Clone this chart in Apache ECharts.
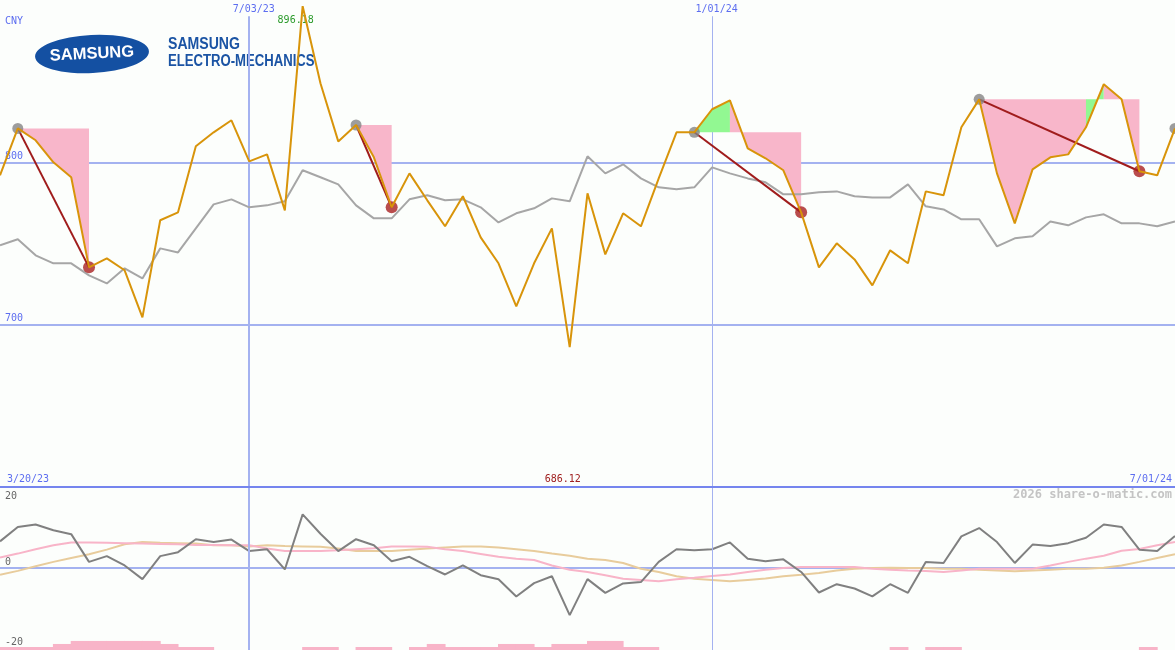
<!DOCTYPE html>
<html><head><meta charset="utf-8">
<script src="https://cdn.jsdelivr.net/npm/echarts@6/dist/echarts.min.js"></script>
<style>html,body{margin:0;padding:0;background:#fcfefc}#c{width:1175px;height:650px}</style>
</head><body><div id="c"></div>
<script>
// ---- data (weekly, starting 3/27/23) ----
const price = [792.0, 820.9, 813.6, 800.0, 790.8, 735.3, 740.8, 733.5, 704.5, 764.3,
  769.2, 809.9, 818.5, 825.9, 800.6, 804.9, 770.4, 896.18, 848.7, 812.9,
  823.0, 803.1, 772.3, 793.2, 776.6, 760.6, 779.1, 753.8, 737.8, 711.3,
  737.8, 759.3, 686.12, 780.9, 743.3, 768.6, 760.6, 790.1, 818.5, 818.5,
  832.7, 838.2, 808.6, 802.5, 795.1, 769.2, 735.3, 750.1, 740.2, 724.2,
  745.8, 737.8, 782.1, 779.7, 821.6, 838.8, 793.2, 762.4, 795.7, 803.1,
  804.9, 821.6, 848.1, 838.8, 794.5, 792.0, 820.9];
const bench = [748.9, 752.6, 742.7, 737.8, 737.8, 730.4, 725.4, 734.7, 728.5, 747.0,
  744.5, 759.3, 774.1, 777.2, 772.3, 773.5, 776.0, 795.1, 790.8, 786.4,
  773.5, 765.5, 765.5, 777.2, 779.7, 776.6, 777.2, 772.3, 763.0, 768.6,
  771.7, 777.8, 776.0, 803.7, 793.2, 798.8, 790.1, 784.6, 783.4, 784.6,
  796.9, 793.2, 790.1, 787.7, 780.3, 780.3, 781.5, 782.1, 779.1, 778.4,
  778.4, 786.4, 772.9, 771.0, 764.9, 764.9, 748.2, 753.2, 754.4, 763.6,
  761.2, 766.1, 768.0, 762.4, 762.4, 760.6, 763.6];
const osc = [7.4, 11.4, 12.1, 10.5, 9.4, 1.7, 3.3, 0.7, -3.1, 3.3,
  4.4, 8.0, 7.2, 7.9, 4.7, 5.2, -0.4, 14.9, 9.5, 4.7,
  8.0, 6.3, 1.9, 3.1, 0.5, -1.8, 0.7, -2.0, -3.1, -7.9,
  -4.2, -2.3, -13.1, -3.1, -6.9, -4.3, -3.9, 1.7, 5.2, 4.9,
  5.2, 7.1, 2.6, 1.9, 2.4, -1.1, -6.8, -4.5, -5.7, -7.9,
  -4.5, -6.9, 1.7, 1.4, 8.8, 11.1, 7.2, 1.4, 6.5, 6.1,
  6.9, 8.4, 12.1, 11.4, 5.1, 4.7, 8.9];
const maFast = [2.9, 4.0, 5.2, 6.3, 7.1, 7.1, 7.0, 6.9, 6.8, 6.7,
  6.6, 6.4, 6.4, 6.3, 6.3, 5.4, 4.7, 4.7, 4.7, 4.9,
  5.2, 5.5, 6.0, 6.0, 5.9, 5.2, 4.7, 3.9, 3.1, 2.6,
  2.2, 0.7, -0.5, -1.1, -2.0, -3.0, -3.3, -3.7, -3.1, -2.7,
  -2.2, -1.8, -1.1, -0.5, 0.0, 0.3, 0.3, 0.3, 0.3, -0.2,
  -0.5, -0.7, -0.8, -1.1, -0.7, -0.2, -0.2, -0.2, -0.2, 0.7,
  1.7, 2.6, 3.4, 4.8, 5.3, 6.3, 7.2];
const maSlow = [-1.9, -0.8, 0.5, 1.7, 2.8, 3.8, 5.1, 6.6, 7.2, 7.0,
  6.9, 6.8, 6.3, 6.3, 6.0, 6.3, 6.1, 6.0, 5.9, 5.4,
  4.7, 4.7, 4.7, 5.1, 5.4, 5.7, 6.0, 6.0, 5.7, 5.2,
  4.7, 4.0, 3.4, 2.6, 2.2, 1.4, -0.2, -1.1, -2.3, -3.0,
  -3.3, -3.7, -3.3, -2.9, -2.3, -1.9, -1.4, -0.7, -0.2, 0.0,
  0.1, 0.0, 0.0, -0.2, -0.2, -0.5, -0.7, -0.9, -0.7, -0.5,
  -0.2, -0.2, 0.1, 0.7, 1.7, 2.8, 3.8];
const weekBars = [1,1,1,2,3,3,3,3,3,2, 1,1,0,0,0,0,0,1,1,0, 1,1,0,1,2,1,1,1,2,2,
  1,2,2,3,3,1,1, 0,0,0,0,0,0,0,0,0,0,0,0,0, 1,0,1,1, 0,0,0,0,0,0,0,0,0,0, 1,0];
const peakIdx = [1, 20, 39, 55, 66];
const troughIdx = [5, 22, 45, 64];
const fillStart = [1, 20, 39, 41, 55, 61, 62];
const fillEnd   = [5, 22, 41, 45, 61, 62, 64];
const fillLevel = [1, 20, 39, 39, 55, 55, 55];
const fillKind  = ['down','down','up','down','down','up','down'];
const markIdx = [14, 40];
const markWidth = [2, 1];
const mainLevels = [700, 800];
const rangeLabels = ['3/20/23', '7/01/24'];
const unitLabel = 'CNY';
const startDate = [2023, 2, 27];

const cats = [];
for (let i = 0; i < price.length; i++) {
  const d = new Date(Date.UTC(startDate[0], startDate[1], startDate[2] + 7 * i));
  cats.push((d.getUTCMonth() + 1) + '/' + String(d.getUTCDate()).padStart(2, '0') + '/' + String(d.getUTCFullYear() % 100).padStart(2, '0'));
}

const BLUE_LINE = '#a4b2f0', BLUE_TXT = '#5d6ef0', MONO = 'DejaVu Sans Mono';
const chart = echarts.init(document.getElementById('c'));
const vline = (i, w) => [{coord: [cats[i], 890], lineStyle: {width: w}}, {coord: [cats[i], 600]}];

chart.setOption({
  animation: false,
  backgroundColor: '#fcfefc',
  grid: [
    {left: 0, right: 0, top: 0, height: 487},
    {left: 0, right: 0, top: 496, height: 144},
    {left: 0, right: 0, top: 487, height: 163}
  ],
  xAxis: [
    {type: 'category', gridIndex: 0, data: cats, boundaryGap: false, position: 'top',
     axisLine: {show: false}, axisTick: {show: false}, splitLine: {show: false},
     axisLabel: {inside: true, margin: 4, interval: (i) => markIdx.includes(i),
       color: BLUE_TXT, fontFamily: MONO, fontSize: 10, padding: [0, 0, 0, 9]}},
    {type: 'category', gridIndex: 1, data: cats, boundaryGap: false, show: false},
    {type: 'value', gridIndex: 2, min: 0, max: cats.length - 1, show: false}
  ],
  yAxis: [
    {type: 'value', gridIndex: 0, min: 600, max: 900, interval: 100,
     axisLine: {show: false}, axisTick: {show: false}, splitLine: {show: false},
     axisLabel: {inside: true, margin: 5, showMinLabel: false, showMaxLabel: false,
       color: BLUE_TXT, fontFamily: MONO, fontSize: 10, verticalAlign: 'bottom', padding: [0, 0, 1, 0]}},
    {type: 'value', gridIndex: 1, min: -20, max: 20, interval: 20,
     axisLine: {show: false}, axisTick: {show: false}, splitLine: {show: false},
     axisLabel: {inside: true, margin: 5, color: '#666', fontFamily: MONO, fontSize: 10,
       formatter: (v) => v === 0 ? '{z|0}' : (v < 0 ? '{n|' + v + '}' : '{p|' + v + '}'),
       rich: {z: {padding: [0, 0, 11, 0], fontFamily: MONO, fontSize: 10, color: '#666'},
              n: {padding: [5, 0, 0, 0], fontFamily: MONO, fontSize: 10, color: '#666'},
              p: {fontFamily: MONO, fontSize: 10, color: '#666'}}}},
    {type: 'value', gridIndex: 2, min: 0, max: 54, show: false}
  ],
  series: [
    // drawdown / recovery fills
    {type: 'custom', xAxisIndex: 0, yAxisIndex: 0, silent: true, z: 1,
     data: fillStart.map((s, k) => [s, price[fillLevel[k]]]),
     renderItem: (params, api) => {
       const k = params.dataIndex;
       const s = fillStart[k], e = fillEnd[k], lv = price[fillLevel[k]];
       const pts = [api.coord([s, lv])];
       for (let i = s; i <= e; i++) pts.push(api.coord([i, price[i]]));
       pts.push(api.coord([e, lv]));
       return {type: 'polygon', shape: {points: pts},
               style: {fill: fillKind[k] === 'up' ? '#92f892' : '#f8b6ca'}};
     }},
    // benchmark line with grid lines
    {type: 'line', xAxisIndex: 0, yAxisIndex: 0, data: bench, showSymbol: false, z: 3,
     lineStyle: {color: '#a6a6a6', width: 2}, itemStyle: {color: '#a6a6a6'},
     markLine: {silent: true, symbol: ['none', 'none'], label: {show: false}, z: 0,
       lineStyle: {color: BLUE_LINE, type: 'solid', width: 2},
       data: mainLevels.map(v => ({yAxis: v})).concat(markIdx.map((i, k) => vline(i, markWidth[k])))}},
    // peak -> trough connectors
    {type: 'custom', xAxisIndex: 0, yAxisIndex: 0, silent: true, z: 4,
     data: troughIdx.map((t) => [t, price[t]]),
     renderItem: (params, api) => {
       const k = params.dataIndex;
       const a = api.coord([peakIdx[k], price[peakIdx[k]]]);
       const b = api.coord([troughIdx[k], price[troughIdx[k]]]);
       return {type: 'line', shape: {x1: a[0], y1: a[1], x2: b[0], y2: b[1]},
               style: {stroke: '#a01c1c', lineWidth: 2}};
     }},
    {type: 'scatter', xAxisIndex: 0, yAxisIndex: 0, z: 5, symbolSize: 11,
     data: peakIdx.map(i => [i, price[i]]), itemStyle: {color: '#858585'}},
    {type: 'scatter', xAxisIndex: 0, yAxisIndex: 0, z: 5, symbolSize: 12,
     data: troughIdx.map(i => [i, price[i]]), itemStyle: {color: '#a82020'}},
    // price
    {type: 'line', xAxisIndex: 0, yAxisIndex: 0, data: price, showSymbol: false, z: 6,
     lineStyle: {color: '#d8940a', width: 2}, itemStyle: {color: '#d8940a'},
     markPoint: {symbol: 'circle', symbolSize: 1, itemStyle: {color: 'rgba(0,0,0,0)'}, silent: true,
       data: [
         {type: 'max', label: {show: true, position: 'inside', offset: [-7, 14], color: '#2a9a2a',
           fontFamily: MONO, fontSize: 10, formatter: (p) => p.value.toFixed(2)}},
         {type: 'min', label: {show: true, position: 'inside', offset: [-7, 132], color: '#a02020',
           fontFamily: MONO, fontSize: 10, formatter: (p) => p.value.toFixed(2)}}
       ]}},
    // lower panel
    {type: 'line', xAxisIndex: 1, yAxisIndex: 1, data: maSlow, showSymbol: false, z: 3,
     lineStyle: {color: '#e8cc9c', width: 2}, itemStyle: {color: '#e8cc9c'},
     markLine: {silent: true, symbol: ['none', 'none'], label: {show: false}, z: 0,
       lineStyle: {color: BLUE_LINE, type: 'solid', width: 2}, data: [{yAxis: 0}]}},
    {type: 'line', xAxisIndex: 1, yAxisIndex: 1, data: maFast, showSymbol: false, z: 3,
     lineStyle: {color: '#f8b4c8', width: 2}, itemStyle: {color: '#f8b4c8'}},
    {type: 'line', xAxisIndex: 1, yAxisIndex: 1, data: osc, showSymbol: false, z: 4,
     lineStyle: {color: '#808080', width: 2}, itemStyle: {color: '#808080'}},
    {type: 'bar', xAxisIndex: 2, yAxisIndex: 2, barWidth: 18.8, z: 2,
     data: weekBars.map((h, j) => [j + 0.5, h]), itemStyle: {color: '#f8b4c8', borderWidth: 0},
     markLine: {silent: true, symbol: ['none', 'none'], label: {show: false},
       lineStyle: {color: BLUE_LINE, type: 'solid', width: 2},
       data: markIdx.map((i, k) => ({xAxis: i, lineStyle: {width: markWidth[k]}}))
         .concat([{yAxis: 54, lineStyle: {color: '#7585ee', width: 2}}])}}
  ],
  graphic: [
    {type: 'text', left: 5, top: 16, style: {text: unitLabel, fill: BLUE_TXT, font: '10px ' + MONO}},
    {type: 'text', left: 7, top: 474, style: {text: rangeLabels[0], fill: BLUE_TXT, font: '10px ' + MONO}},
    {type: 'text', right: 3, top: 474, style: {text: rangeLabels[1], fill: BLUE_TXT, font: '10px ' + MONO}},
    {type: 'text', right: 3, top: 489, style: {text: '2026 share-o-matic.com', fill: '#c4c4c4', font: 'bold 12px ' + MONO}},
    {type: 'group', x: 92, y: 54, rotation: 0.05, children: [
      {type: 'circle', shape: {cx: 0, cy: 0, r: 57}, scaleY: 0.335, style: {fill: '#1450a2'}},
      {type: 'text', x: 0, y: 0, style: {text: 'SAMSUNG', fill: '#ffffff', font: 'bold 16.5px "Liberation Sans"',
        textAlign: 'center', textVerticalAlign: 'middle'}}
    ]},
    {type: 'text', x: 168, y: 37, scaleX: 0.88, style: {text: 'SAMSUNG', fill: '#1b54a4', font: 'bold 16px "Liberation Sans"'}},
    {type: 'text', x: 168, y: 54, scaleX: 0.82, style: {text: 'ELECTRO-MECHANICS', fill: '#1b54a4', font: 'bold 16px "Liberation Sans"'}}
  ]
});
</script></body></html>
